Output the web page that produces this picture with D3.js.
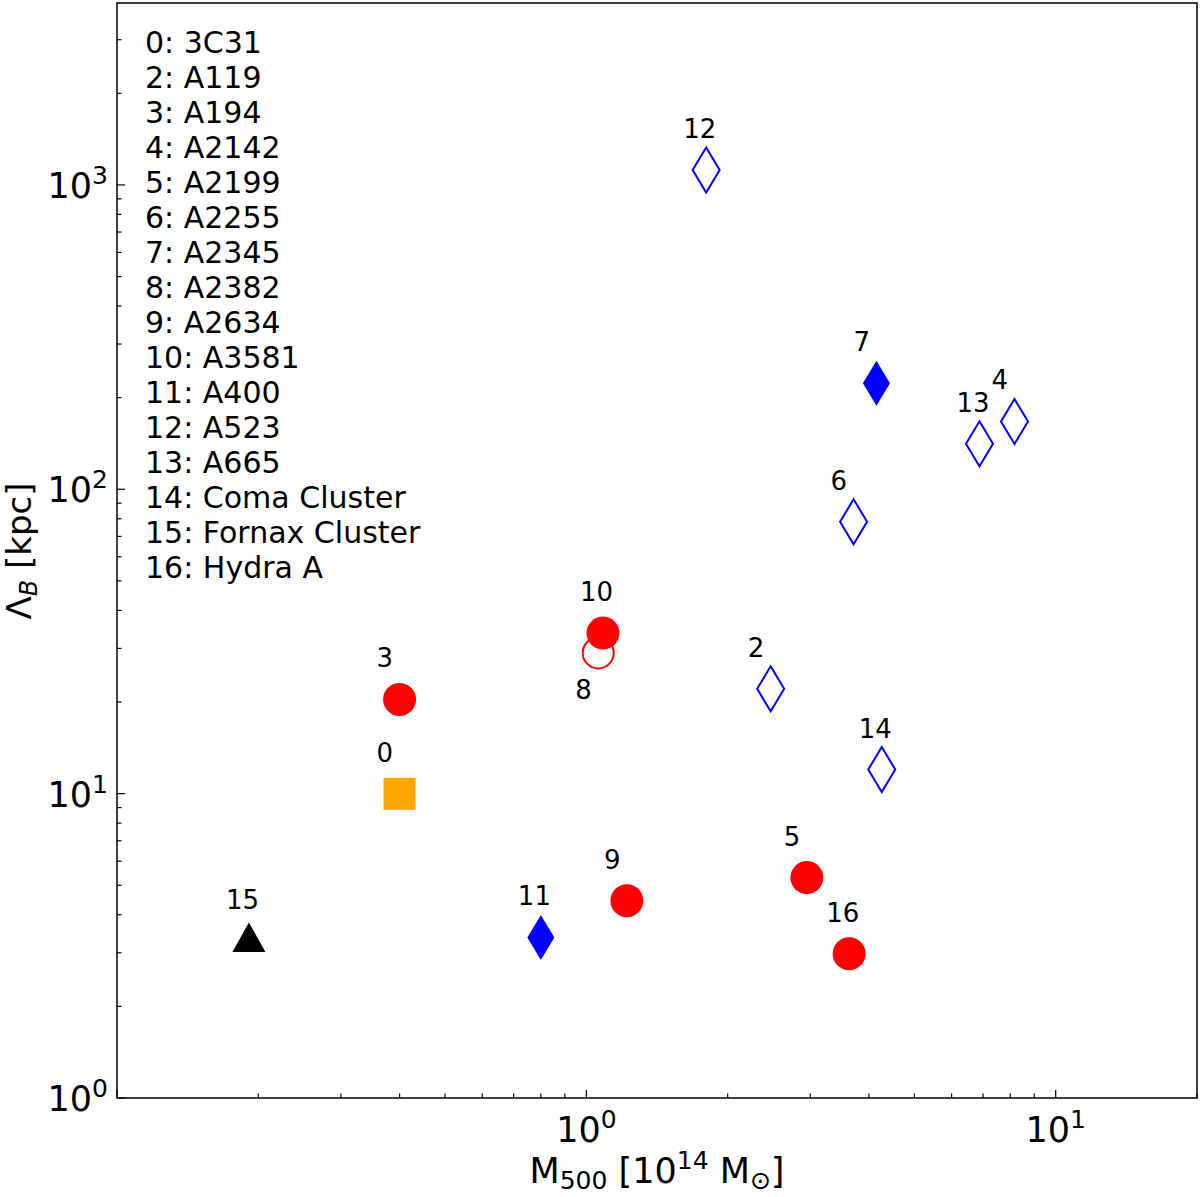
<!DOCTYPE html>
<html lang="en">
<head>
	<meta charset="UTF-8">
	<title>Lambda_B vs M500</title>
	<style>
		html, body {
			margin: 0;
			background: #fff;
		}
		svg text {
			font-family: 'DejaVu Sans', sans-serif;
			fill: #000;
		}
	</style>
	<script src="https://d3js.org/d3.v7.min.js"></script>
</head>
<body>
	<svg id="container"></svg>
	<script>
		// cluster ids, names and values
		const ids = [0, 2, 3, 4, 5, 6, 7, 8, 9, 10, 11, 12, 13, 14, 15, 16];
		const names = ['3C31', 'A119', 'A194', 'A2142', 'A2199', 'A2255', 'A2345', 'A2382', 'A2634',
			'A3581', 'A400', 'A523', 'A665', 'Coma Cluster', 'Fornax Cluster', 'Hydra A'];
		const m500 = [0.40, 2.47, 0.40, 8.17, 2.95, 3.71, 4.15, 1.06, 1.22, 1.085, 0.80, 1.80, 6.88, 4.26, 0.191, 3.63];
		const lambdaB = [10.0, 22.1, 20.4, 167, 5.30, 78.2, 223, 29.0, 4.45, 33.7, 3.37, 1120, 141, 12.0, 3.27, 2.98];
		const kinds = ['square', 'diamondOpen', 'circle', 'diamondOpen', 'circle', 'diamondOpen', 'diamond', 'circleOpen',
			'circle', 'circle', 'diamond', 'diamondOpen', 'diamondOpen', 'diamondOpen', 'triangle', 'circle'];

		const xTicks = [0.1, 1, 10];
		const yTicks = [1, 10, 100, 1000];

		const W = 1200, H = 1197;
		const margin = { left: 117, right: 3, top: 3, bottom: 99 };

		const svg = d3.select('#container').attr('width', W).attr('height', H);

		const x = d3.scaleLog().domain([0.1, 20]).range([margin.left, W - margin.right]);
		const y = d3.scaleLog().domain([1, 3960]).range([H - margin.bottom, margin.top]);

		// minor ticks for each decade
		const minor = (lo, hi) => {
			const out = [];
			for (let e = Math.floor(Math.log10(lo)); e <= Math.ceil(Math.log10(hi)); e++) {
				for (let k = 2; k <= 9; k++) {
					const v = k * Math.pow(10, e);
					if (v >= lo && v <= hi) out.push(v);
				}
			}
			return out;
		};

		const g = svg.append('g');

		// inward ticks
		const drawTicks = (vals, len, axis) => {
			vals.forEach(v => {
				if (axis === 'x') {
					g.append('line')
						.attr('x1', x(v)).attr('x2', x(v))
						.attr('y1', y.range()[0]).attr('y2', y.range()[0] - len)
						.attr('stroke', '#000').attr('stroke-width', 1.2);
				} else {
					g.append('line')
						.attr('x1', x.range()[0]).attr('x2', x.range()[0] + len)
						.attr('y1', y(v)).attr('y2', y(v))
						.attr('stroke', '#000').attr('stroke-width', 1.2);
				}
			});
		};
		drawTicks(minor(0.1, 20), 4.5, 'x');
		drawTicks(xTicks, 8, 'x');
		drawTicks(minor(1, 3960), 4.5, 'y');
		drawTicks(yTicks, 8, 'y');

		// tick labels like 10^n
		const powLabel = (sel, v) => {
			sel.append('tspan').text('10');
			sel.append('tspan').attr('dy', -14).attr('font-size', 25).text(Math.round(Math.log10(v)));
		};
		xTicks.filter(v => x(v) > margin.left + 1).forEach(v => {
			const t = g.append('text')
				.attr('x', x(v)).attr('y', 1142)
				.attr('text-anchor', 'middle')
				.attr('font-size', 35);
			powLabel(t, v);
		});
		yTicks.forEach(v => {
			const t = g.append('text')
				.attr('x', 108).attr('y', y(v) + 13)
				.attr('text-anchor', 'end')
				.attr('font-size', 35);
			powLabel(t, v);
		});

		// axis labels
		const xl = g.append('text')
			.attr('x', 657).attr('y', 1183)
			.attr('text-anchor', 'middle')
			.attr('font-size', 35);
		xl.append('tspan').text('M');
		xl.append('tspan').attr('font-size', 25).attr('dy', 6).text('500');
		xl.append('tspan').attr('dy', -6).text(' [10');
		xl.append('tspan').attr('font-size', 25).attr('dy', -14).text('14');
		xl.append('tspan').attr('dy', 14).text(' M');
		xl.append('tspan').attr('font-size', 25).attr('dy', 6).text('\u2299');
		xl.append('tspan').attr('dy', -6).text(']');

		const yl = g.append('text')
			.attr('transform', 'translate(31,551) rotate(-90)')
			.attr('text-anchor', 'middle')
			.attr('font-size', 34);
		yl.append('tspan').text('\u039B');
		yl.append('tspan').attr('font-size', 24).attr('font-style', 'italic').attr('dy', 6).text('B');
		yl.append('tspan').attr('dy', -6).text(' [kpc]');

		// legend block
		const leg = g.append('text').attr('font-size', 30);
		ids.forEach((id, i) => {
			leg.append('tspan')
				.attr('x', 145).attr('y', 53 + i * 35)
				.text(`${id}: ${names[i]}`);
		});

		// marker shapes
		const shapePath = {
			circle: 'M16.5,0A16.5,16.5 0 1,1 -16.5,0A16.5,16.5 0 1,1 16.5,0Z',
			circleOpen: 'M15.5,0A15.5,15.5 0 1,1 -15.5,0A15.5,15.5 0 1,1 15.5,0Z',
			square: 'M-16,-16H16V16H-16Z',
			diamond: 'M0,-22.5L13.5,0L0,22.5L-13.5,0Z',
			diamondOpen: 'M0,-22.5L13.5,0L0,22.5L-13.5,0Z',
			triangle: 'M0,-19L16.5,10.5L-16.5,10.5Z',
		};
		const fillOf = {
			circle: 'red', circleOpen: 'none', square: 'orange',
			diamond: 'blue', diamondOpen: 'none', triangle: 'black',
		};
		const strokeOf = {
			circle: 'none', circleOpen: 'red', square: 'none',
			diamond: 'none', diamondOpen: 'blue', triangle: 'none',
		};

		const pts = ids.map((id, i) => ({ id, m: m500[i], l: lambdaB[i], kind: kinds[i] }));

		g.selectAll('path.pt')
			.data(pts)
			.enter()
			.append('path')
			.attr('class', 'pt')
			.attr('transform', d => `translate(${x(d.m)},${y(d.l)})`)
			.attr('d', d => shapePath[d.kind])
			.attr('fill', d => fillOf[d.kind])
			.attr('stroke', d => strokeOf[d.kind])
			.attr('stroke-width', 2);

		// point labels (8 sits below its marker)
		g.selectAll('text.lbl')
			.data(pts)
			.enter()
			.append('text')
			.attr('class', 'lbl')
			.attr('x', d => x(d.m) - 23)
			.attr('y', d => y(d.l) + (d.id === 8 ? 46 : -32))
			.attr('font-size', 26)
			.text(d => d.id);

		// frame
		g.append('rect')
			.attr('x', margin.left).attr('y', margin.top)
			.attr('width', W - margin.left - margin.right)
			.attr('height', H - margin.top - margin.bottom)
			.attr('fill', 'none')
			.attr('stroke', '#000')
			.attr('stroke-width', 1.5);
	</script>
</body>
</html>
